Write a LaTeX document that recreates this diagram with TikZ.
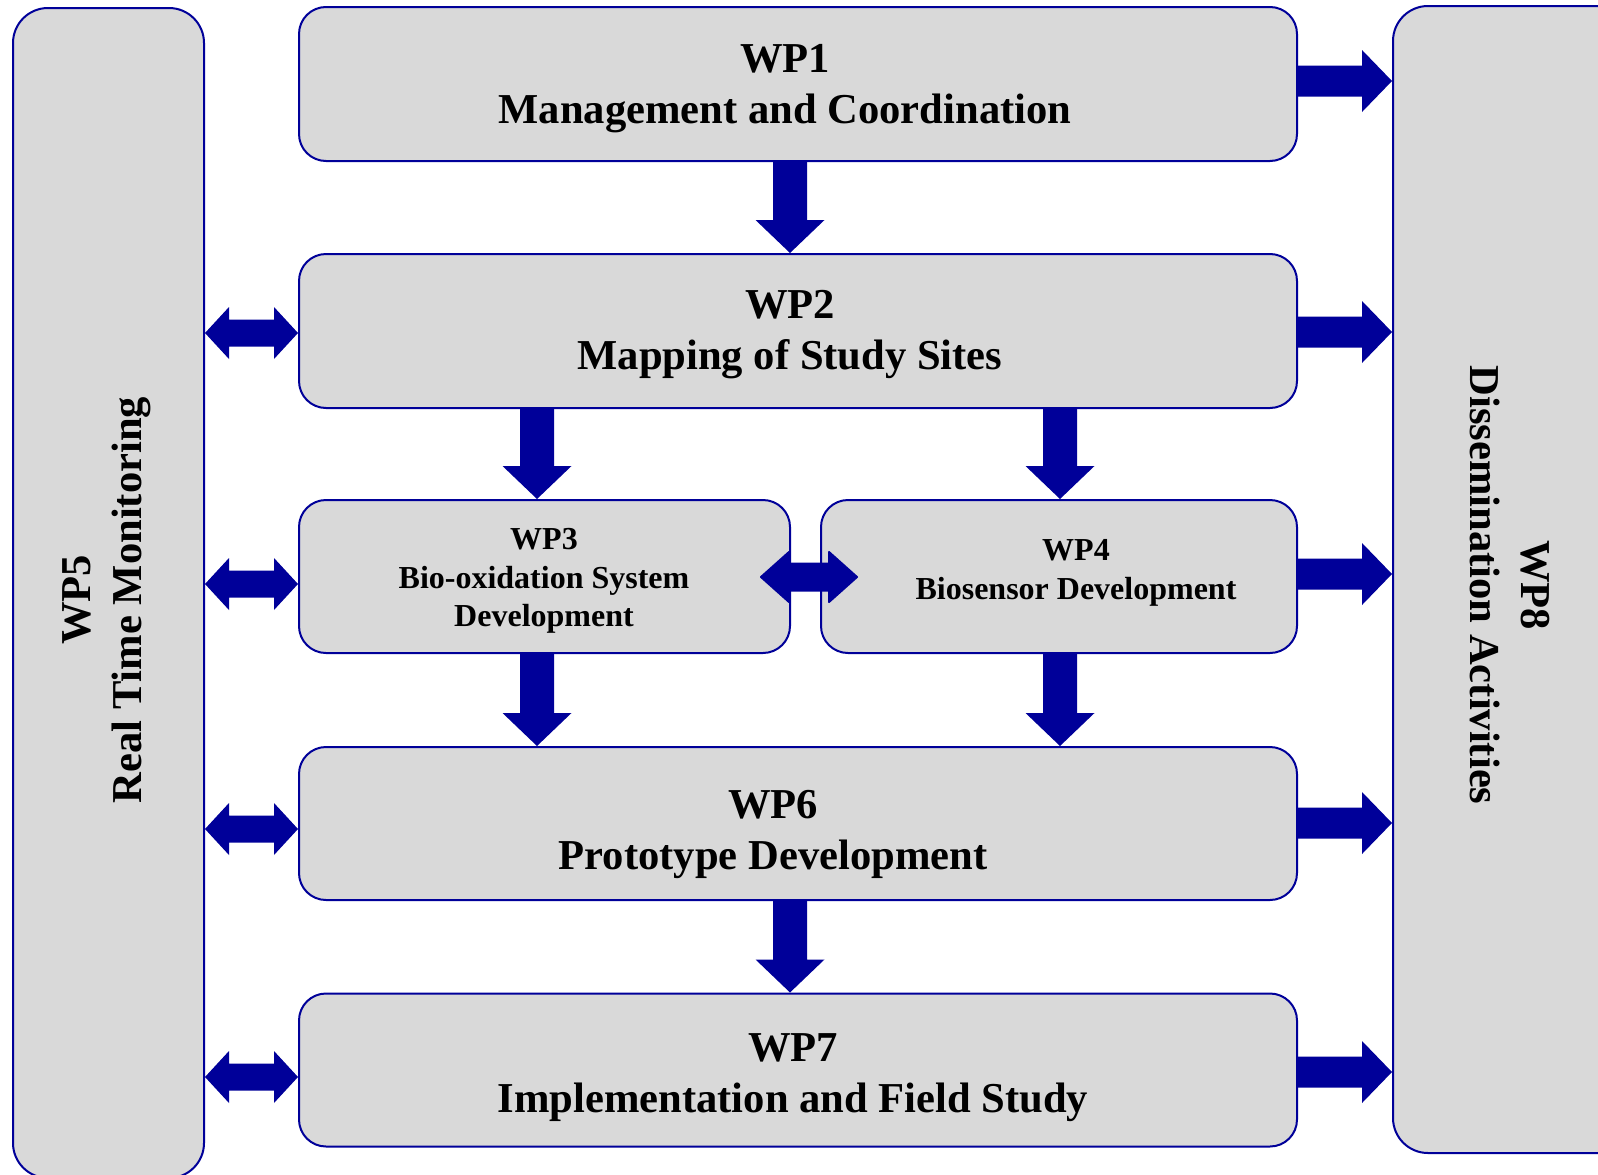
\documentclass[tikz,border=0pt]{standalone}
\usepackage{fontspec}
\setmainfont{Liberation Serif}
\usetikzlibrary{calc}
\definecolor{boxfill}{HTML}{D9D9D9}
\definecolor{navy}{HTML}{000099}
\tikzset{
  wpbox/.style={draw=navy, line width=2pt, fill=boxfill, rounded corners=27pt, inner sep=0pt},
  sidebox/.style={wpbox, rounded corners=35pt},
  bigtxt/.style={align=center, inner sep=0pt, font=\fontsize{42.6pt}{51pt}\selectfont\bfseries},
  smalltxt/.style={align=center, inner sep=0pt, font=\fontsize{32pt}{38.7pt}\selectfont\bfseries},
  arrfill/.style={fill=navy}
}
% right block arrow: from, to, image y
\newcommand\arrR[3]{\fill[arrfill] let \p1=(#1), \p2=(#2), \p3=(0,#3) in
  (\x1,\y3+15.5pt) -- (\x2-30pt,\y3+15.5pt) -- (\x2-30pt,\y3+31pt) -- (\x2,\y3)
  -- (\x2-30pt,\y3-31pt) -- (\x2-30pt,\y3-15.5pt) -- (\x1,\y3-15.5pt) -- cycle;}
% double block arrow: from, to, image y, head length, head half width, shaft half width
\newcommand\arrLR[6]{\fill[arrfill] let \p1=(#1), \p2=(#2), \p3=(0,#3) in
  (\x1,\y3) -- (\x1+#4pt,\y3+#5pt) -- (\x1+#4pt,\y3+#6pt) -- (\x2-#4pt,\y3+#6pt)
  -- (\x2-#4pt,\y3+#5pt) -- (\x2,\y3) -- (\x2-#4pt,\y3-#5pt) -- (\x2-#4pt,\y3-#6pt)
  -- (\x1+#4pt,\y3-#6pt) -- (\x1+#4pt,\y3-#5pt) -- cycle;}
% down block arrow: from, to, image x
\newcommand\arrD[3]{\fill[arrfill] let \p1=(#1), \p2=(#2), \p3=(#3,0) in
  (\x3-17pt,\y1) -- (\x3-17pt,\y2+33pt) -- (\x3-34.5pt,\y2+33pt) -- (\x3,\y2)
  -- (\x3+34.5pt,\y2+33pt) -- (\x3+17pt,\y2+33pt) -- (\x3+17pt,\y1) -- cycle;}
\begin{document}
\begin{tikzpicture}[x=1pt,y=-1pt]
\useasboundingbox (0,0) rectangle (1598,1175);
\fill[white] (0,0) rectangle (1598,1175);
\clip (0,0) rectangle (1598,1175);
% side boxes
\node[sidebox, minimum width=191pt, minimum height=1170pt] (wp5) at (108.5,593) {};
\node[sidebox, minimum width=240pt, minimum height=1147pt] (wp8) at (1513,579.5) {};
% main boxes
\node[wpbox, minimum width=998pt, minimum height=154pt] (wp1) at (798,84) {};
\node[wpbox, minimum width=998pt, minimum height=154pt] (wp2) at (798,331) {};
\node[wpbox, minimum width=491pt, minimum height=153pt] (wp3) at (544.5,576.5) {};
\node[wpbox, minimum width=476pt, minimum height=153pt] (wp4) at (1059,576.5) {};
\node[wpbox, minimum width=998pt, minimum height=153pt] (wp6) at (798,823.5) {};
\node[wpbox, minimum width=998pt, minimum height=153pt] (wp7) at (798,1070) {};
% texts
\node[bigtxt] (t1) at (785,89) {WP1\\Management and Coordination};
\node[bigtxt] (t2) at (790,335) {WP2\\Mapping of Study Sites};
\node[smalltxt] (t3) at (544,581) {WP3\\Bio-oxidation System\\Development};
\node[smalltxt] (t4) at (1076,573) {WP4\\Biosensor Development};
\node[bigtxt] (t6) at (773,834) {WP6\\Prototype Development};
\node[bigtxt] (t7) at (793,1078) {WP7\\Implementation and Field Study};
\node[bigtxt, rotate=90] (t5) at (107,600) {WP5\\Real Time Monitoring};
\node[bigtxt, rotate=-90] (t8) at (1510,585) {WP8\\Dissemination Activities};
% down arrows
\arrD{wp1.south}{wp2.north}{790}
\arrD{wp2.south}{wp3.north}{537}
\arrD{wp2.south}{wp4.north}{1060}
\arrD{wp3.south}{wp6.north}{537}
\arrD{wp4.south}{wp6.north}{1060}
\arrD{wp6.south}{wp7.north}{790}
% right arrows to WP8
\arrR{wp1.east}{wp8.west}{81}
\arrR{wp2.east}{wp8.west}{332}
\arrR{wp4.east}{wp8.west}{574}
\arrR{wp6.east}{wp8.west}{823}
\arrR{wp7.east}{wp8.west}{1072}
% double arrows with WP5
\arrLR{wp5.east}{wp2.west}{333}{24}{26}{13.5}
\arrLR{wp5.east}{wp3.west}{584}{24}{26}{13.5}
\arrLR{wp5.east}{wp6.west}{829}{24}{26}{13.5}
\arrLR{wp5.east}{wp7.west}{1077}{24}{26}{13.5}
% WP3 <-> WP4
\coordinate (m3) at ($(wp3.east)+(-30,0)$);
\coordinate (m4) at ($(wp4.west)+(37,0)$);
\begin{scope}[line join=round]
\draw[arrfill, draw=navy, line width=2pt] let \p1=(m3), \p2=(m4), \p3=(0,577) in
  (\x1,\y3) -- (\x1+28pt,\y3+25pt) -- (\x1+28pt,\y3+13.5pt) -- (\x2-28pt,\y3+13.5pt)
  -- (\x2-28pt,\y3+25pt) -- (\x2,\y3) -- (\x2-28pt,\y3-25pt) -- (\x2-28pt,\y3-13.5pt)
  -- (\x1+28pt,\y3-13.5pt) -- (\x1+28pt,\y3-25pt) -- cycle;
\end{scope}
\end{tikzpicture}
\end{document}
